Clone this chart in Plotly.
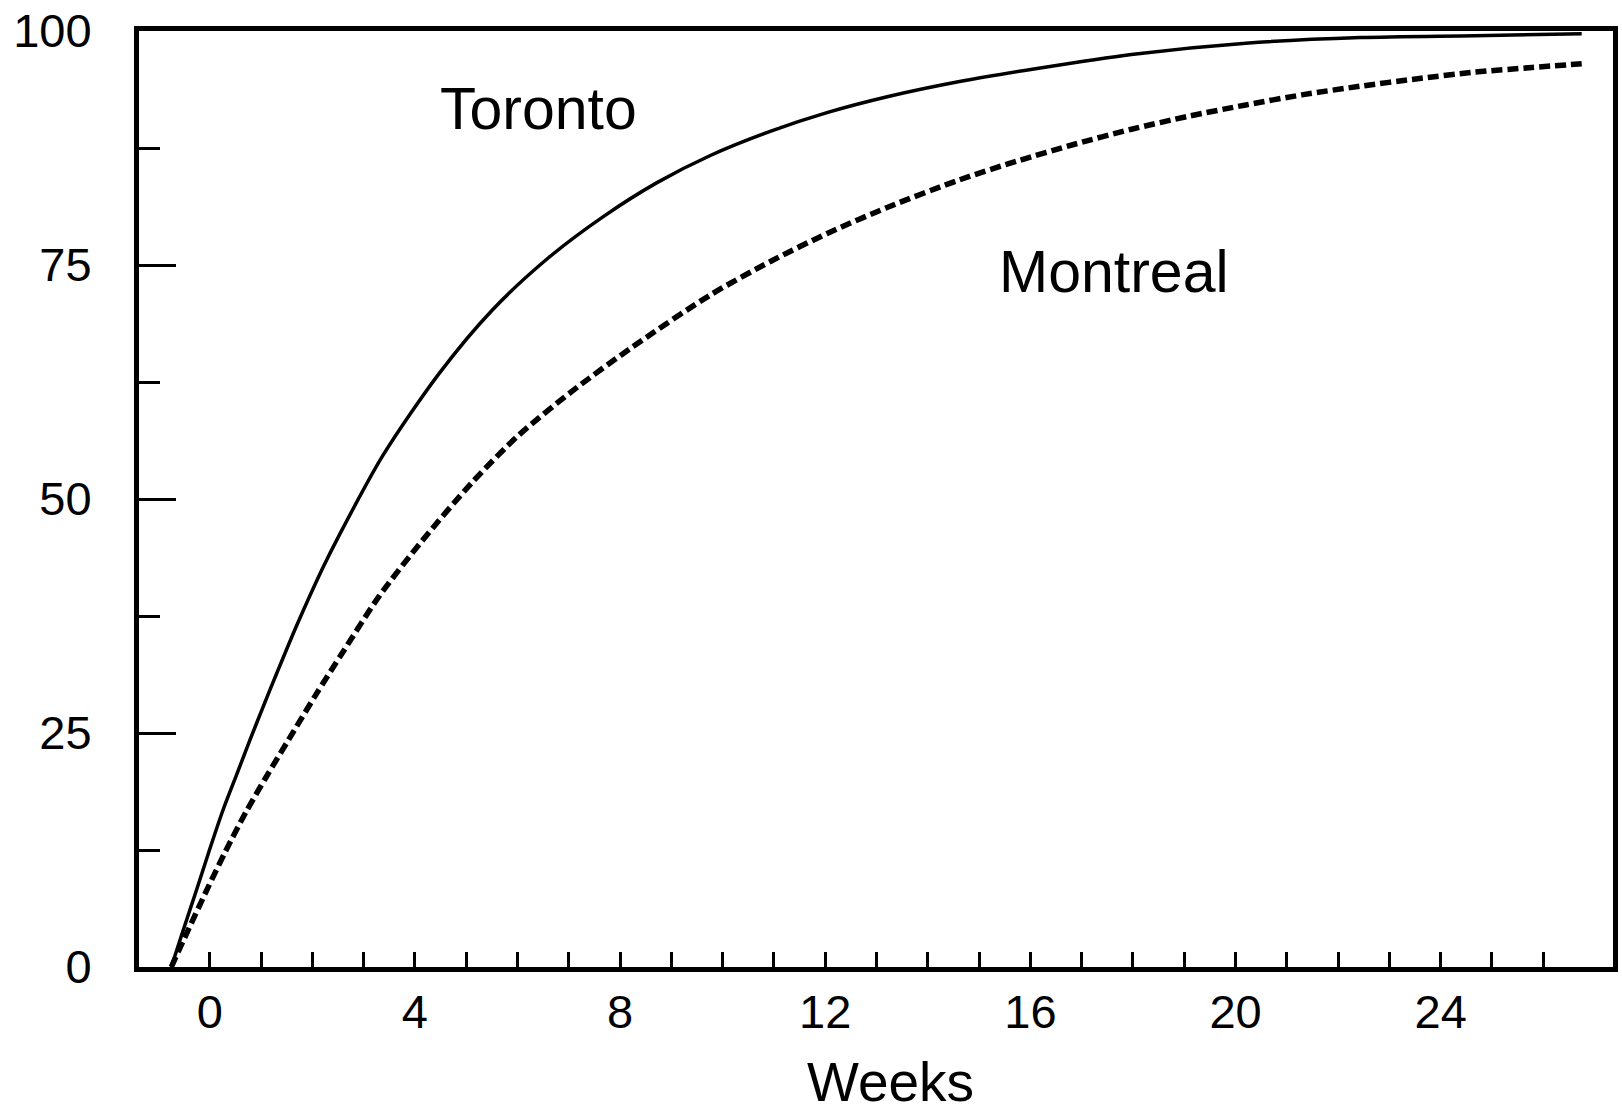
import plotly.graph_objects as go

# Cumulative percentage vs weeks
weeks_toronto = [-0.75, -0.52, -0.26, 0.0, 0.26, 0.52, 0.78, 1.04, 1.30, 1.68, 2.20, 2.53,
                 3.37, 4.47, 5.51, 6.61, 7.68, 8.72, 9.76, 10.94, 12.05, 13.23, 14.62,
                 16.13, 17.97, 20.20, 22.43, 24.66, 26.75]
pct_toronto = [0.0, 3.9, 8.2, 12.6, 16.8, 20.5, 24.2, 27.8, 31.3, 36.3, 42.6, 46.2,
               54.6, 63.4, 70.2, 75.8, 80.2, 83.8, 86.7, 89.3, 91.3, 93.0, 94.6,
               96.0, 97.5, 98.7, 99.3, 99.5, 99.7]

weeks_montreal = [-0.75, -0.45, -0.06, 0.32, 0.71, 1.10, 1.55, 2.07, 2.59, 3.30, 4.15,
                  5.12, 6.02, 7.06, 8.23, 9.76, 10.94, 12.05, 13.23, 14.62, 15.74, 16.86,
                  17.97, 19.09, 20.20, 21.32, 22.43, 23.55, 24.66, 25.78, 26.75]
pct_montreal = [0.0, 3.6, 8.2, 12.5, 16.6, 20.3, 24.4, 29.1, 33.6, 39.6, 45.6,
                51.8, 56.8, 61.5, 66.2, 71.8, 75.4, 78.4, 81.2, 84.1, 86.1, 87.9,
                89.5, 90.9, 92.1, 93.2, 94.1, 94.9, 95.6, 96.1, 96.5]

x_tick_vals = [0, 4, 8, 12, 16, 20, 24]
x_tick_text = ["0", "4", "8", "12", "16", "20", "24"]
x_minor_vals = list(range(0, 27))
y_tick_vals = [0, 25, 50, 75, 100]
y_tick_text = ["0", "25", "50", "75", "100"]
y_minor_vals = [12.5, 37.5, 62.5, 87.5]

FONT = "Liberation Sans"

fig = go.Figure()
fig.add_trace(go.Scatter(x=weeks_toronto, y=pct_toronto, mode="lines", name="Toronto",
                         line=dict(color="black", width=3.5, shape="spline", smoothing=0.8)))
fig.add_trace(go.Scatter(x=weeks_montreal, y=pct_montreal, mode="lines", name="Montreal",
                         line=dict(color="black", width=5.5, dash="11px,5px",
                                   shape="spline", smoothing=0.8)))

fig.add_annotation(x=6.41, y=91.7, xref="x", yref="y", text="Toronto", showarrow=False,
                   font=dict(family=FONT, size=59, color="black"))
fig.add_annotation(x=17.63, y=74.3, xref="x", yref="y", text="Montreal", showarrow=False,
                   font=dict(family=FONT, size=59, color="black"))
fig.add_annotation(x=13.27, y=-0.1228, xref="x", yref="paper", text="Weeks", showarrow=False,
                   yanchor="middle", font=dict(family=FONT, size=55, color="black"))

fig.update_layout(
    width=1622, height=1115,
    margin=dict(l=139, r=4, t=27, b=148),
    paper_bgcolor="white", plot_bgcolor="white",
    showlegend=False,
    font=dict(family=FONT, color="black"),
    xaxis=dict(range=[-1.38, 27.36], showgrid=False, zeroline=False,
               showline=True, linecolor="black", linewidth=5, mirror=True,
               tickmode="array", tickvals=x_tick_vals, ticktext=x_tick_text,
               ticks="inside", ticklen=15, tickwidth=3, tickcolor="black",
               tickfont=dict(family=FONT, size=47, color="black"),
               minor=dict(tickmode="array", tickvals=x_minor_vals, ticks="inside",
                          ticklen=15, tickwidth=3, tickcolor="black", showgrid=False)),
    yaxis=dict(range=[0, 100], showgrid=False, zeroline=False,
               showline=True, linecolor="black", linewidth=5, mirror=True,
               tickmode="array", tickvals=y_tick_vals, ticktext=y_tick_text,
               ticks="inside", ticklen=37, tickwidth=3, tickcolor="black",
               ticklabelstandoff=33,
               tickfont=dict(family=FONT, size=47, color="black"),
               minor=dict(tickmode="array", tickvals=y_minor_vals, ticks="inside",
                          ticklen=21, tickwidth=3, tickcolor="black", showgrid=False)),
)

fig.write_html("out.html", config={"displayModeBar": False},
               post_script="document.body.style.margin='0';document.body.style.overflow='hidden';")
